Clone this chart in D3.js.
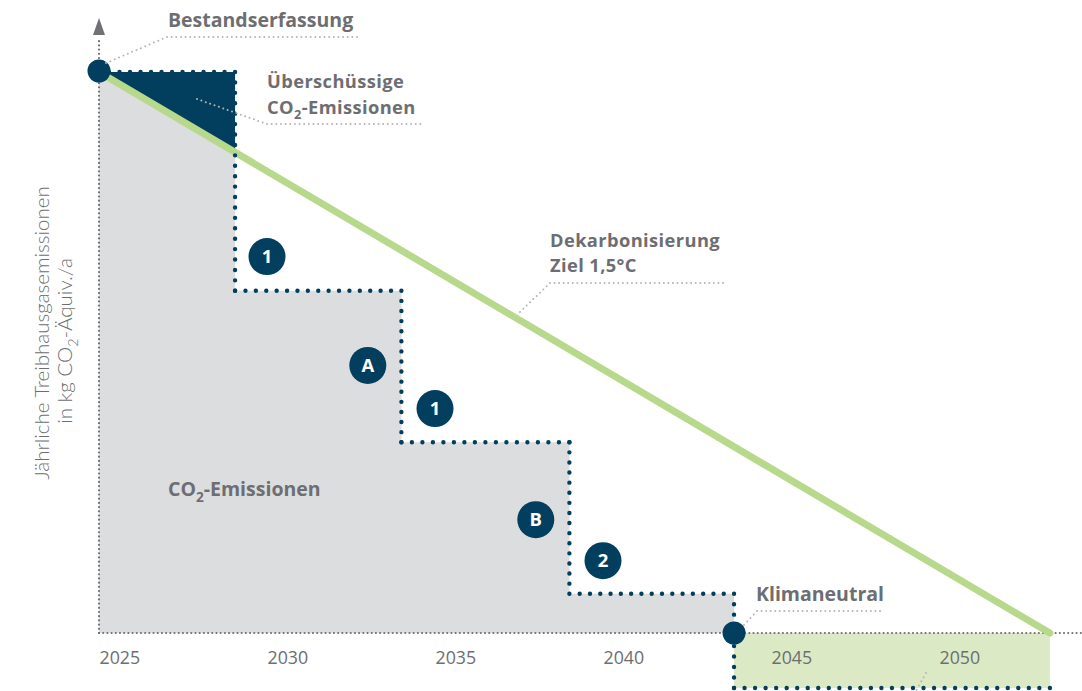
<!DOCTYPE html>
<html><head><meta charset="utf-8">
<script src="https://cdn.jsdelivr.net/npm/d3@7"></script>
<style>
html,body{margin:0;padding:0;background:#fff;}
svg{display:block;font-family:"Open Sans",Lato,sans-serif;}
</style></head>
<body>
<svg id="chart" width="1082" height="691"></svg>
<script>
// ---- data ----
const tickYears = [2025, 2030, 2035, 2040, 2045, 2050];
const stepYears = [2025, 2029.05, 2034, 2039];      // start year of each step
const stepLevels = [100, 61, 34, 7];                // emission level of each step (% of start)
const neutralYear = 2043.9;                          // climate neutral
const compensationLevel = -9.8;                      // level below zero after neutrality
const targetStart = {year: 2025, value: 100};
const targetEnd = {year: 2053.3, value: 0};         // 1.5°C decarbonisation path end
const badges = [
  {year: 2030.0, value: 67.1, label: "1"},
  {year: 2033.0, value: 47.7, label: "A"},
  {year: 2035.0, value: 40.0, label: "1"},
  {year: 2038.0, value: 20.2, label: "B"},
  {year: 2040.0, value: 12.9, label: "2"}
];

const C = {navy:"#023f5f", gray:"#dcdddf", green:"#b7d98b", lightGreen:"#dbeac5",
           text:"#6d6e71", axis:"#707174", leader:"#b5b5b5"};

const svg = d3.select("#chart");
const x = d3.scaleLinear().domain([2025, 2050]).range([99, 939]);
const y = d3.scaleLinear().domain([0, 100]).range([633, 72]);

const lineAt = yr => targetStart.value + (targetEnd.value - targetStart.value) *
  (yr - targetStart.year) / (targetEnd.year - targetStart.year);

// gray stepped area
const stepPts = [];
stepYears.forEach((yr, i) => {
  const end = i < stepYears.length - 1 ? stepYears[i + 1] : neutralYear;
  stepPts.push([yr, stepLevels[i]], [end, stepLevels[i]]);
});
const area = d3.area().x(d => x(d[0])).y0(y(0)).y1(d => y(d[1]));
svg.append("path").attr("d", area(stepPts)).attr("fill", C.gray);

// green compensation area
svg.append("rect")
  .attr("x", x(neutralYear)).attr("y", y(0))
  .attr("width", x(targetEnd.year) - x(neutralYear))
  .attr("height", y(compensationLevel) - y(0))
  .attr("fill", C.lightGreen);

// dark excess triangle
const tri = [[stepYears[0], stepLevels[0]], [stepYears[1], stepLevels[0]], [stepYears[1], lineAt(stepYears[1])]];
svg.append("path").attr("d", d3.line().x(d => x(d[0])).y(d => y(d[1]))(tri) + "Z").attr("fill", C.navy);

// dotted helper
function dotted(x1, y1, x2, y2, color, width, spacing) {
  const len = Math.hypot(x2 - x1, y2 - y1);
  const n = Math.max(1, Math.round(len / spacing));
  svg.append("line").attr("x1", x1).attr("y1", y1).attr("x2", x2).attr("y2", y2)
    .attr("stroke", color).attr("stroke-width", width).attr("stroke-linecap", "round")
    .attr("stroke-dasharray", `0 ${len / n}`);
}

// axes (dotted)
dotted(x(2025), y(0), 1085, y(0), C.axis, 2.2, 4.2);
dotted(x(2025), y(0), x(2025), 37, C.axis, 2.2, 4.2);
svg.append("path").attr("d", `M${x(2025)-6},35 L${x(2025)},18 L${x(2025)+6},35 Z`).attr("fill", C.axis);

// x axis labels
const xAxis = d3.axisBottom(x).tickValues(tickYears).tickFormat(d3.format("d")).tickSize(0).tickPadding(18);
const gx = svg.append("g").attr("transform", `translate(0,${y(0)})`).call(xAxis);
gx.select(".domain").remove();
gx.selectAll("text").attr("text-anchor", "start").attr("font-family", "'Open Sans', sans-serif")
  .attr("font-size", 17.8).attr("fill", C.text);

// target line
svg.append("line")
  .attr("x1", x(targetStart.year)).attr("y1", y(targetStart.value))
  .attr("x2", x(targetEnd.year)).attr("y2", y(targetEnd.value))
  .attr("stroke", C.green).attr("stroke-width", 7).attr("stroke-linecap", "round");

// navy dotted step line
const dPts = [];
stepYears.forEach((yr, i) => {
  const end = i < stepYears.length - 1 ? stepYears[i + 1] : neutralYear;
  const next = i < stepYears.length - 1 ? stepLevels[i + 1] : compensationLevel;
  dPts.push([[yr, stepLevels[i]], [end, stepLevels[i]]]);
  dPts.push([[end, stepLevels[i]], [end, next]]);
});
dPts.push([[neutralYear, compensationLevel], [targetEnd.year, compensationLevel]]);
dPts.forEach((s, i) => {
  const x1 = x(s[0][0]) + (i === 0 ? 10 : 0);
  dotted(x1, y(s[0][1]), x(s[1][0]), y(s[1][1]), C.navy, 4.4, 10.4);
});

// milestone circles
svg.append("circle").attr("cx", x(2025)).attr("cy", y(100) - 1).attr("r", 11.5).attr("fill", C.navy);
svg.append("circle").attr("cx", x(neutralYear)).attr("cy", y(0)).attr("r", 11.5).attr("fill", C.navy);

// badges
const gb = svg.selectAll(".badge").data(badges).join("g").attr("class", "badge")
  .attr("transform", d => `translate(${x(d.year)},${y(d.value)})`);
gb.append("circle").attr("r", 18.5).attr("fill", C.navy);
gb.append("text").text(d => d.label).attr("text-anchor", "middle").attr("dy", "0.36em")
  .attr("fill", "#fff").attr("font-weight", 700).attr("font-size", 18.5);

// leader lines
const leaders = [
  [[106, 63], [167, 37], [357, 37]],
  [[197, 99], [267, 124], [425, 124]],
  [[520, 312], [550, 283], [723, 283]],
  [[744, 625], [757, 611], [880, 611]],
  [[926, 673], [912, 698]]
];
leaders.forEach(pts => {
  for (let i = 0; i < pts.length - 1; i++)
    dotted(pts[i][0], pts[i][1], pts[i + 1][0], pts[i + 1][1], C.leader, 2, 4.6);
});

// labels: one <text> per line; subscripts as tspans
function label(xp, yp, parts, size = 19.5, spacing = 0) {
  const t = svg.append("text").attr("x", xp).attr("y", yp)
    .attr("fill", C.text).attr("font-weight", 700).attr("font-size", size)
    .attr("letter-spacing", spacing);
  let shift = 0;
  parts.forEach(p => {
    const s = t.append("tspan");
    if (typeof p === "string") {
      s.text(p);
      if (shift) s.attr("dy", -shift);
      shift = 0;
    } else {
      shift = size * 0.3;
      s.text(p.sub).attr("font-size", "0.7em").attr("dy", shift);
    }
  });
  return t;
}
label(168, 27, ["Bestandserfassung"]);
label(267, 88, ["Überschüssige"], 18.3, 0.4);
label(267, 113.5, ["CO", {sub: "2"}, "-Emissionen"], 18.3, 0.4);
label(550, 246.5, ["Dekarbonisierung"], 18.3, 0.4);
label(550, 272, ["Ziel 1,5°C"], 18.3, 0.4);
label(168, 496, ["CO", {sub: "2"}, "-Emissionen"]);
label(756, 601, ["Klimaneutral"]);

// y axis title (one text, two lines)
const yt = svg.append("text").attr("transform", "translate(49,333) rotate(-90)")
  .attr("text-anchor", "middle").attr("fill", C.text).attr("font-family", "Lato, sans-serif")
  .attr("font-weight", 300).attr("font-size", 20.5);
yt.append("tspan").attr("x", 0).attr("y", 0).text("Jährliche Treibhausgasemissionen");
const l2 = yt.append("tspan").attr("x", -8).attr("y", 23);
l2.append("tspan").text("in kg CO");
l2.append("tspan").text("2").attr("font-size", "0.7em").attr("dy", 6);
l2.append("tspan").text("-Äquiv./a").attr("dy", -6);
</script>
</body></html>
